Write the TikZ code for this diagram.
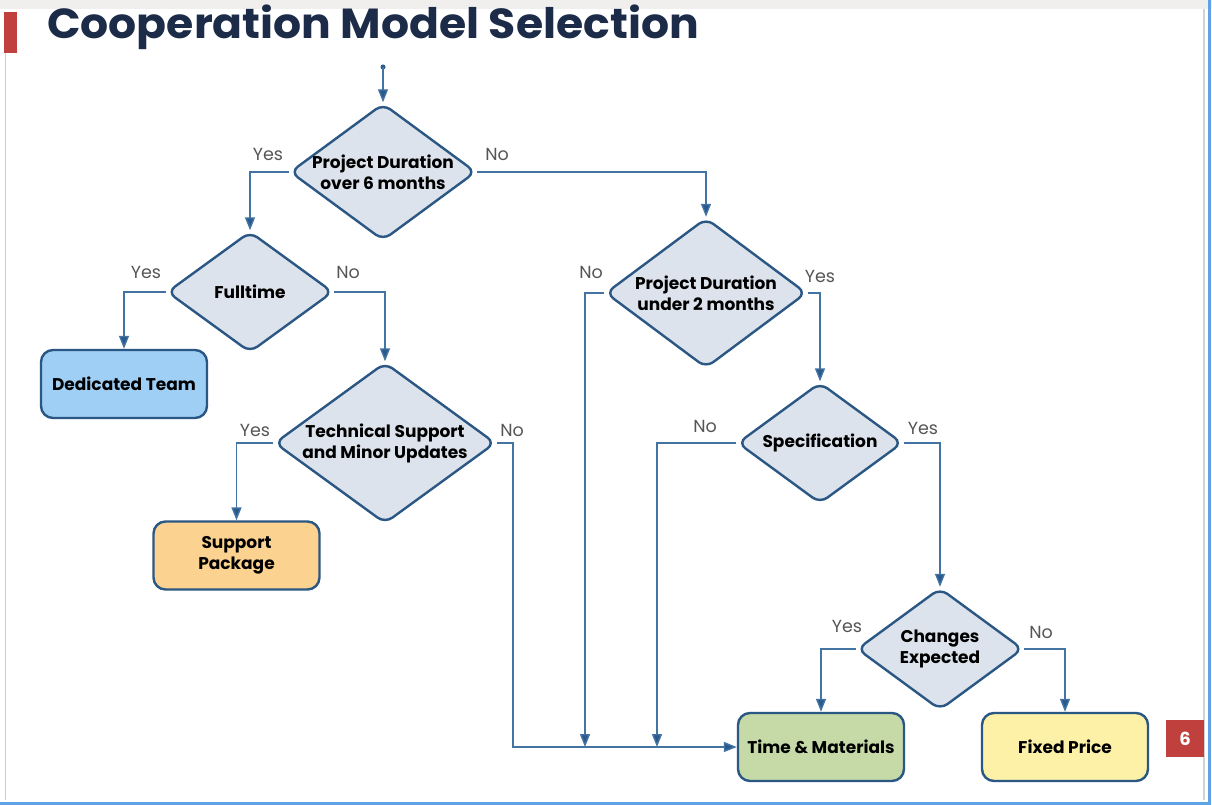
\documentclass[tikz,border=0pt]{standalone}
\usepackage{fontspec}
\setmainfont{Poppins}
\newfontfamily\titlefont[FakeStretch=1.05]{Poppins}
\usetikzlibrary{shapes.geometric,arrows.meta}
\definecolor{dborder}{HTML}{2B5784}
\definecolor{diafill}{HTML}{DDE3EC}
\definecolor{conncol}{HTML}{4373A3}
\definecolor{tipcol}{HTML}{2A5A8C}
\definecolor{lblcol}{HTML}{555555}
\definecolor{titlecol}{HTML}{1B2B48}
\definecolor{redbar}{HTML}{C0403E}
\definecolor{dtfill}{HTML}{9FCFF5}
\definecolor{spfill}{HTML}{FBD290}
\definecolor{tmfill}{HTML}{C6DAA8}
\definecolor{fpfill}{HTML}{FDF1A8}
\definecolor{edgeblue}{HTML}{5DA3E6}
\definecolor{stripgray}{HTML}{F0EFEE}
\begin{document}
\begin{tikzpicture}[x=1pt,y=-1pt,
  dia/.style={diamond, draw=dborder, line width=2.4pt, fill=diafill, rounded corners=9pt, inner sep=0pt},
  txt/.style={font=\bfseries\fontsize{17}{21}\selectfont, align=center, text=black, inner sep=0pt},
  box/.style={rectangle, draw=dborder, line width=2.4pt, rounded corners=12pt, minimum width=166pt, minimum height=68pt, inner sep=0pt, font=\bfseries\fontsize{17}{21}\selectfont, align=center},
  conn/.style={draw=conncol, line width=1.4pt, -{Triangle[length=13pt,width=10pt,fill=tipcol]}},
  yn/.style={text=lblcol, font=\fontsize{17.5}{20}\selectfont, inner sep=0pt}
]
\useasboundingbox (0,0) rectangle (1212,805);
\fill[white] (0,0) rectangle (1212,805);
\fill[stripgray] (0,0) rectangle (1212,9);
\draw[gray!40, line width=1pt] (5,53) -- (5,800);
\draw[gray!35, line width=1.5pt] (1204,9) -- (1204,800);
\draw[edgeblue, line width=2.5pt] (1209.5,0) -- (1209.5,803.5) -- (0,803.5);
\fill[redbar] (4,12) rectangle (17,53);
\node[anchor=base west, inner sep=0pt, text=titlecol, font=\titlefont\bfseries\fontsize{42}{46}\selectfont] (title) at (47,39) {Cooperation Model Selection};
\node[rectangle, fill=redbar, minimum width=38pt, minimum height=37pt, inner sep=0pt, text=white, font=\bfseries\fontsize{18}{20}\selectfont] (pnum) at (1185,738.5) {6};

% diamonds
\node[dia, minimum width=186pt, minimum height=137pt, label={[txt]center:{Project Duration\\over 6 months}}] (d1) at (383,172) {};
\node[dia, minimum width=166pt, minimum height=121pt, label={[txt]center:Fulltime}] (d2) at (250,292) {};
\node[dia, minimum width=221pt, minimum height=161pt, label={[txt]center:{Technical Support\\and Minor Updates}}] (d4) at (385,443) {};
\node[dia, minimum width=201pt, minimum height=150pt, label={[txt]center:{Project Duration\\under 2 months}}] (d3) at (706,293) {};
\node[dia, minimum width=165pt, minimum height=121pt, label={[txt]center:Specification}] (d5) at (820,443) {};
\node[dia, minimum width=166pt, minimum height=122pt, label={[txt]center:{Changes\\Expected}}] (d6) at (940,649) {};

% boxes
\node[box, fill=dtfill] (dt) at (124,384) {Dedicated Team};
\node[box, fill=spfill] (sp) at (236.5,555.5) {Support\\Package};
\node[box, fill=tmfill] (tm) at (821,747) {Time \& Materials};
\node[box, fill=fpfill] (fp) at (1065,747) {Fixed Price};

% connectors
\coordinate (start) at (383,67);
\fill[tipcol] (start) circle (2.5pt);
\draw[conn] (start) -- (d1.north);
\draw[conn] (d1.west) -| (d2.north);
\draw[conn] (d1.east) -| (d3.north);
\draw[conn] (d2.west) -| (dt.north);
\draw[conn] (d2.east) -| (d4.north);
\draw[conn] (d4.west) -| (sp.north);
\coordinate (c4) at (513,747);
\draw[conn] (d4.east) -| (c4) -- (tm.west);
\coordinate (j1) at (585,747);
\draw[conn] (d3.west) -| (j1);
\coordinate (j2) at (657,747);
\draw[conn] (d5.west) -| (j2);
\draw[conn] (d3.east) -| (d5.north);
\draw[conn] (d5.east) -| (d6.north);
\draw[conn] (d6.west) -| (tm.north);
\draw[conn] (d6.east) -| (fp.north);

% labels
\node[yn] (y1) at (268,154) {Yes};
\node[yn] (n1) at (497,154) {No};
\node[yn] (y2) at (146,272) {Yes};
\node[yn] (n2) at (348,272) {No};
\node[yn] (y4) at (255,430) {Yes};
\node[yn] (n4) at (512,430) {No};
\node[yn] (n3) at (591,272) {No};
\node[yn] (y3) at (820,276) {Yes};
\node[yn] (n5) at (705,426) {No};
\node[yn] (y5) at (923,428) {Yes};
\node[yn] (y6) at (847,626) {Yes};
\node[yn] (n6) at (1041,632) {No};
\end{tikzpicture}
\end{document}
